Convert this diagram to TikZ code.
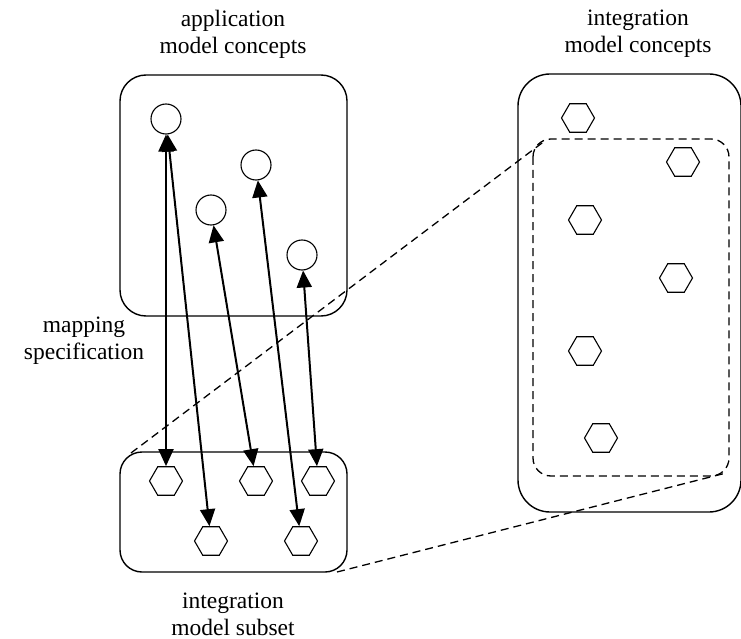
\documentclass[tikz,border=0pt]{standalone}
\usepackage{fontspec}
\setmainfont{Liberation Serif}
\usetikzlibrary{arrows.meta,shapes.geometric}

\tikzset{
  concept/.style={circle, draw, line width=1.1pt, minimum size=30pt, inner sep=0pt},
  hexa/.style={regular polygon, regular polygon sides=6, draw, line width=1.1pt, minimum size=33pt, inner sep=0pt},
  mapping/.style={{Triangle[length=17pt,width=15pt]}-{Triangle[length=17pt,width=15pt]}, line width=2pt},
  box/.style={line width=1.4pt, rounded corners=#1},
  link/.style={line width=1.3pt, dash pattern=on 8pt off 5pt},
  caption/.style={align=center, inner sep=0pt, font=\fontsize{23.5}{27}\selectfont}
}

\begin{document}
\begin{tikzpicture}[x=1pt,y=-1pt]
    \useasboundingbox (0,0) rectangle (741,639);

    %Titulos
    \node[caption] (tapp) at (233,34) {application\\model concepts};
    \node[caption] (tint) at (638,34) {integration\\model concepts};
    \node[caption] (tmap) at (84,341) {mapping\\specification};
    \node[caption] (tsub) at (233,614) {integration\\model subset};

    %Cajas
    \draw[box=26pt] (120,75) rectangle (347,316);
    \draw[box=22pt] (120,452) rectangle (347,572);
    \draw[box=32pt] (518,74) rectangle (741,512);
    \draw[box=18pt, link] (533,139) rectangle (729,476);

    %Conceptos de la aplicacion
    \node[concept] (c1) at (166,119) {};
    \node[concept] (c2) at (211,210) {};
    \node[concept] (c3) at (256,165) {};
    \node[concept] (c4) at (302,255) {};

    %Subconjunto del modelo de integracion
    \node[hexa] (s1) at (166,481) {};
    \node[hexa] (s2) at (256,481) {};
    \node[hexa] (s3) at (318,481) {};
    \node[hexa] (s4) at (211,541) {};
    \node[hexa] (s5) at (301,541) {};

    %Conceptos del modelo de integracion
    \node[hexa] (i1) at (578,118) {};
    \node[hexa] (i2) at (683,162) {};
    \node[hexa] (i3) at (585,220) {};
    \node[hexa] (i4) at (676,278) {};
    \node[hexa] (i5) at (585,351) {};
    \node[hexa] (i6) at (601,438) {};

    %Especificacion del mapeo
    \draw[mapping] (c1) -- (s1);
    \draw[mapping] (c1) -- (s4);
    \draw[mapping] (c2) -- (s2);
    \draw[mapping] (c3) -- (s5);
    \draw[mapping] (c4) -- (s3);

    %Lineas de zoom
    \coordinate (subnw) at (131,453);
    \coordinate (subse) at (337,572);
    \coordinate (dashnw) at (546,140);
    \coordinate (dashse) at (726,473);
    \draw[link] (subnw) -- (dashnw);
    \draw[link] (subse) -- (dashse);
\end{tikzpicture}
\end{document}
